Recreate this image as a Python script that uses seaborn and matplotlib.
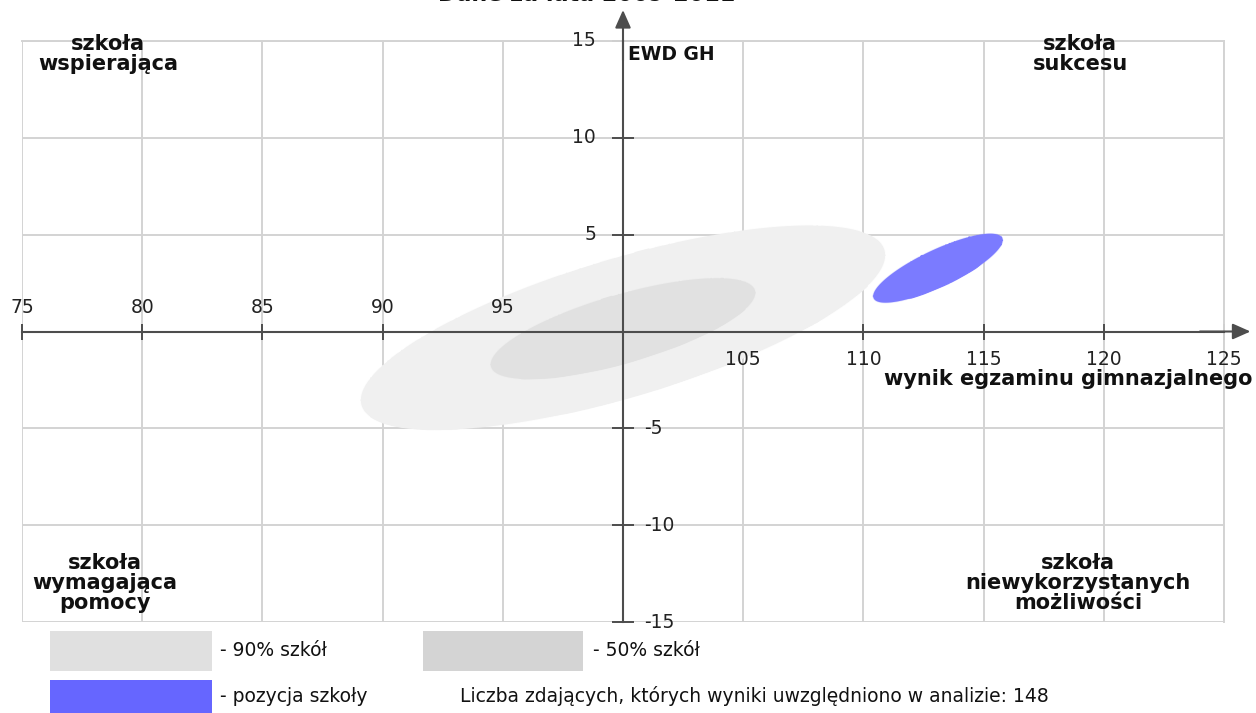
import matplotlib.pyplot as plt
from matplotlib.patches import Rectangle
import numpy as np
import pandas as pd

import seaborn as sns

# obszary: srodek, rozrzut w x i y, korelacja
region_names = ["90% szkół", "50% szkół", "pozycja szkoły"]
center_x = [100.0, 100.0, 113.1]
center_y = [0.2, 0.15, 3.27]
spread_x = [10.9, 5.5, 2.69]
spread_y = [5.27, 2.6, 1.78]
corr = [0.71, 0.71, 0.81]
plot_colors = ["#f0f0f0", "#e1e1e1", "#7b7bff"]
legend_colors = ["#e0e0e0", "#d4d4d4", "#6666ff"]

x_ticks = [75, 80, 85, 90, 95, 100, 105, 110, 115, 120, 125]
y_ticks = [-15, -10, -5, 0, 5, 10, 15]
x_labels_above = [75, 80, 85, 90, 95]
x_labels_below = [105, 110, 115, 120, 125]
y_labels_left = [15, 10, 5]
y_labels_right = [-5, -10, -15]

n_students = 148
title = "Dane za lata 2009-2011"

W, H = 1256, 713


def fx(px):
    return px / W


def fy(py):
    return 1 - py / H


def ellipse_points(cx, cy, sx, sy, rho, n=240):
    t = np.linspace(0, 2 * np.pi, n)
    x = cx + sx * np.cos(t)
    y = cy + sy * (rho * np.cos(t) + np.sqrt(1 - rho ** 2) * np.sin(t))
    return pd.DataFrame({"x": x, "y": y, "order": np.arange(n)})


sns.set_theme(style="white")
plt.rcParams['font.family'] = ['DejaVu Sans']

fig = plt.figure(figsize=(W / 100, H / 100), dpi=100)
ax = fig.add_axes([fx(22), fy(622), (1224 - 22) / W, (622 - 41) / H])
ax.set_xlim(75, 125)
ax.set_ylim(-15, 15)

axis_col = "#4d4d4d"
grid_col = "#d3d3d3"

ax.set_xticks(x_ticks)
ax.set_yticks(y_ticks)
ax.grid(True, color=grid_col, lw=1.4, zorder=0)
ax.set_axisbelow(True)
ax.tick_params(axis='x', direction='inout', length=11.5, width=1.4, color=axis_col,
               labelbottom=False, bottom=True)
ax.tick_params(axis='y', direction='inout', length=15.5, width=1.4, color=axis_col,
               labelleft=False, left=True)

ax.spines['left'].set_position(('data', 100))
ax.spines['bottom'].set_position(('data', 0))
for s in ['left', 'bottom']:
    ax.spines[s].set_color(axis_col)
    ax.spines[s].set_linewidth(1.5)
    ax.spines[s].set_zorder(4)
for s in ['top', 'right']:
    ax.spines[s].set_color(grid_col)
    ax.spines[s].set_linewidth(1.4)

# elipsy
for i in range(len(region_names)):
    df = ellipse_points(center_x[i], center_y[i], spread_x[i], spread_y[i], corr[i])
    ax.fill(df["x"], df["y"], color=plot_colors[i], lw=0, zorder=1 + i)
    sns.lineplot(data=df, x="x", y="y", sort=False, color=plot_colors[i], lw=0.8,
                 ax=ax, zorder=1 + i)
ax.set_xlabel("")
ax.set_ylabel("")

# strzalki osi
arrow = dict(arrowstyle='-|>,head_length=0.9,head_width=0.4', color=axis_col, lw=1.5,
             mutation_scale=12, shrinkA=0, shrinkB=0)
ax.annotate('', xy=(126.1, 0), xytext=(124, 0), arrowprops=arrow, annotation_clip=False, zorder=5)
ax.annotate('', xy=(100, 16.6), xytext=(100, 14), arrowprops=arrow, annotation_clip=False, zorder=5)

tick_fs = 13.5
for v in x_labels_above:
    ax.annotate(str(v), (v, 0), xytext=(0, 24), textcoords='offset pixels',
                ha='center', va='center', fontsize=tick_fs, color='#222222')
for v in x_labels_below:
    ax.annotate(str(v), (v, 0), xytext=(0, -28), textcoords='offset pixels',
                ha='center', va='center', fontsize=tick_fs, color='#222222')
for v in y_labels_left:
    ax.annotate(str(v), (100, v), xytext=(-27, 0), textcoords='offset pixels',
                ha='right', va='center', fontsize=tick_fs, color='#222222')
for v in y_labels_right:
    ax.annotate(str(v), (100, v), xytext=(21, 0), textcoords='offset pixels',
                ha='left', va='center', fontsize=tick_fs, color='#222222')

ax.annotate("EWD GH", (100, 15), xytext=(5, -14), textcoords='offset pixels',
            ha='left', va='center', fontsize=13.5, fontweight='bold', color='#111111')
fig.text(fx(1253), fy(379), "wynik egzaminu gimnazjalnego", ha='right', va='center',
         fontsize=15, fontweight='bold', color='#111111')

# tytul (uciety u gory, jak w oryginale)
fig.text(fx(587), fy(0.8), title, ha='center', va='baseline', fontsize=16,
         fontweight='bold', color='#111111')

# cwiartki
q_fs = 15
fig.text(fx(108), fy(54), "szkoła\nwspierająca", ha='center', va='center',
         fontsize=q_fs, fontweight='bold', linespacing=1.02, color='#111111')
fig.text(fx(1080), fy(54), "szkoła\nsukcesu", ha='center', va='center',
         fontsize=q_fs, fontweight='bold', linespacing=1.02, color='#111111')
fig.text(fx(105), fy(583), "szkoła\nwymagająca\npomocy", ha='center', va='center',
         fontsize=q_fs, fontweight='bold', linespacing=0.98, color='#111111')
fig.text(fx(1078), fy(583), "szkoła\nniewykorzystanych\nmożliwości", ha='center', va='center',
         fontsize=q_fs, fontweight='bold', linespacing=0.98, color='#111111')

# legenda
swatches = [(50, 631, 162, 40), (423, 631, 160, 40), (50, 680, 162, 40)]
for (sx0, sy0, sw, sh), col in zip(swatches, legend_colors):
    fig.add_artist(Rectangle((fx(sx0), fy(sy0 + sh)), sw / W, sh / H,
                             transform=fig.transFigure, color=col, lw=0))
leg_fs = 13.5
fig.text(fx(220), fy(651), "- " + region_names[0], ha='left', va='center', fontsize=leg_fs, color='#111111')
fig.text(fx(593), fy(651), "- " + region_names[1], ha='left', va='center', fontsize=leg_fs, color='#111111')
fig.text(fx(220), fy(696), "- " + region_names[2], ha='left', va='center', fontsize=leg_fs, color='#111111')
fig.text(fx(460), fy(696), "Liczba zdających, których wyniki uwzględniono w analizie: {}".format(n_students),
         ha='left', va='center', fontsize=leg_fs, color='#111111')

fig.savefig("out.png", dpi=100)
